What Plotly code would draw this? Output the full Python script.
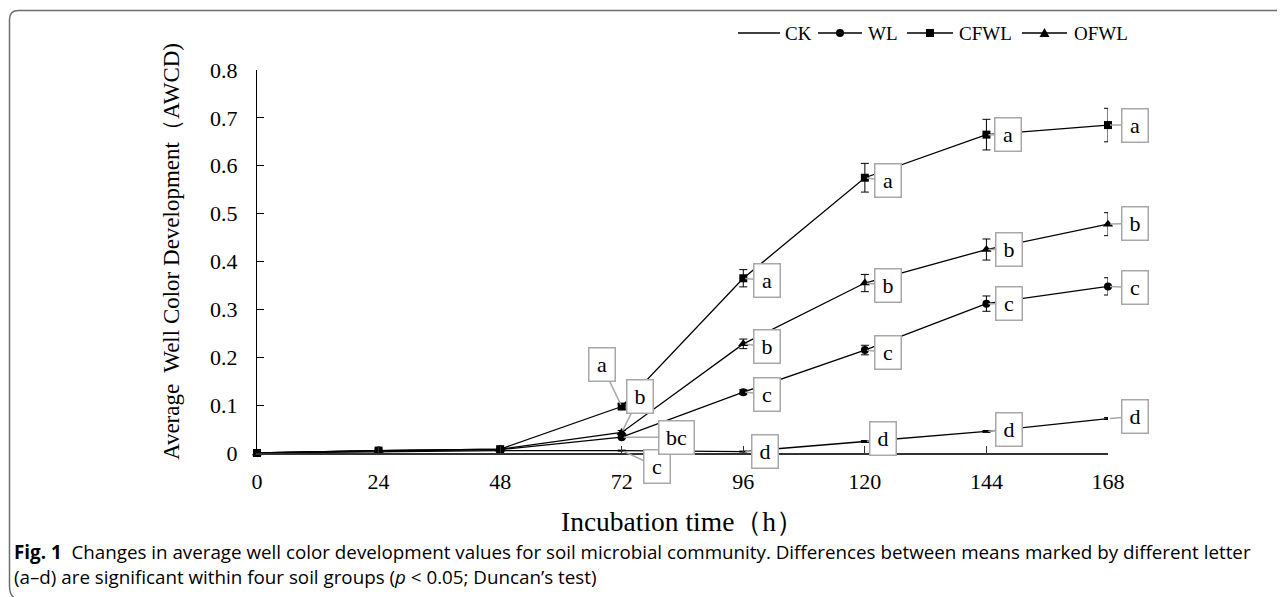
import plotly.graph_objects as go

# ---------------- data ----------------
hours = [0, 24, 48, 72, 96, 120, 144, 168]
series_names = ["CK", "WL", "CFWL", "OFWL"]

ck_awcd = [0.000, 0.003, 0.005, 0.005, 0.003, 0.024, 0.045, 0.072]
wl_awcd = [0.000, 0.005, 0.007, 0.033, 0.127, 0.215, 0.312, 0.348]
cfwl_awcd = [0.000, 0.005, 0.008, 0.097, 0.365, 0.575, 0.665, 0.685]
ofwl_awcd = [0.000, 0.005, 0.008, 0.043, 0.228, 0.355, 0.425, 0.478]

ck_err = [0, 0, 0, 0.001, 0.001, 0.002, 0.002, 0.002]
wl_err = [0, 0, 0, 0.003, 0.005, 0.010, 0.016, 0.018]
cfwl_err = [0, 0, 0, 0.006, 0.018, 0.030, 0.032, 0.035]
ofwl_err = [0, 0, 0, 0.004, 0.010, 0.018, 0.022, 0.024]

# significance letters (from 72 h on)
letter_hours = [72, 96, 120, 144, 168]
ck_letters = ["c", "d", "d", "d", "d"]
wl_letters = ["bc", "c", "c", "c", "c"]
cfwl_letters = ["a", "a", "a", "a", "a"]
ofwl_letters = ["b", "b", "b", "b", "b"]

y_ticks = [0, 0.1, 0.2, 0.3, 0.4, 0.5, 0.6, 0.7, 0.8]
x_title = "Incubation time（h）"
y_title = "Average  Well Color Development（AWCD)"
caption_1 = ("<b>Fig. 1</b>  Changes in average well color development values for soil microbial community. "
             "Differences between means marked by different letter")
caption_2 = "(a–d) are significant within four soil groups (<i>p</i> < 0.05; Duncan’s test)"

# ---------------- layout geometry (page pixels) ----------------
PAGE_W, PAGE_H = 1285, 597
OFF = 8                      # default body margin of the html page
W, H = PAGE_W - OFF, PAGE_H - OFF
L, R, T, B = 257, 1108, 70, 453   # plot area in page pixels


def px(x):
    return (x - L) / (R - L)


def py(y):
    return (B - y) / (B - T)


SERIF = "Liberation Serif, Times New Roman, serif"
SANS = "Open Sans, Liberation Sans, sans-serif"

fig = go.Figure()

styles = {
    "CK": dict(mode="lines", marker=dict(size=3, symbol="line-ew", color="black")),
    "WL": dict(mode="lines+markers", marker=dict(size=8, symbol="circle", color="black")),
    "CFWL": dict(mode="lines+markers", marker=dict(size=8, symbol="square", color="black")),
    "OFWL": dict(mode="lines+markers", marker=dict(size=9, symbol="triangle-up", color="black")),
}
vals = {"CK": ck_awcd, "WL": wl_awcd, "CFWL": cfwl_awcd, "OFWL": ofwl_awcd}
errs = {"CK": ck_err, "WL": wl_err, "CFWL": cfwl_err, "OFWL": ofwl_err}
lets = {"CK": ck_letters, "WL": wl_letters, "CFWL": cfwl_letters, "OFWL": ofwl_letters}

for name in series_names:
    st = styles[name]
    fig.add_trace(go.Scatter(
        x=hours, y=vals[name], name=name, mode=st["mode"], marker=st["marker"],
        line=dict(color="black", width=1.3),
        error_y=dict(type="data", array=errs[name], visible=True, color="black", thickness=1, width=4),
        cliponaxis=False, showlegend=False,
    ))

# callout offsets (pixels) for each label
offsets = {
    "CFWL": [(-20, -42), (24, 2), (23, 3), (22, 0), (27, 0)],
    "OFWL": [(18, -36), (24, 3), (23, 2), (23, 0), (27, -1)],
    "WL": [(55, 0), (24, 2), (23, 2), (23, 0), (27, 1)],
    "CK": [(35, 16), (22, 0), (18, -3), (23, -2), (27, -2)],
}

GRAY = "#a8a8a8"
annotations = []
for name in series_names:
    for i, h in enumerate(letter_hours):
        idx = hours.index(h)
        ax, ay = offsets[name][i]
        annotations.append(dict(
            x=h, y=vals[name][idx], xref="x", yref="y", text=lets[name][i],
            showarrow=True, ax=ax, ay=ay, arrowhead=0, arrowwidth=1.5, arrowcolor=GRAY,
            standoff=2, bordercolor=GRAY, borderwidth=1.5, bgcolor="white", borderpad=3,
            width=19 if len(lets[name][i]) == 1 else 28, height=26,
            font=dict(family=SERIF, size=22, color="black"),
        ))

# axis titles and caption
annotations.append(dict(x=px(682), y=py(521), xref="paper", yref="paper", text=x_title, showarrow=False,
                        xanchor="center", yanchor="middle",
                        font=dict(family=SERIF, size=27.5, color="black")))
annotations.append(dict(x=px(171), y=py(252), xref="paper", yref="paper", text=y_title, showarrow=False,
                        xanchor="center", yanchor="middle",
                        textangle=-90, font=dict(family=SERIF, size=23, color="black")))
annotations.append(dict(x=px(12), y=py(552), xref="paper", yref="paper", text=caption_1, showarrow=False,
                        xanchor="left", yanchor="middle", font=dict(family=SANS, size=18.8, color="black")))
annotations.append(dict(x=px(12), y=py(577), xref="paper", yref="paper", text=caption_2, showarrow=False,
                        xanchor="left", yanchor="middle", font=dict(family=SANS, size=18.8, color="black")))

shapes = []
# frame (rounded top-left / bottom-left corners)
r = 9
fx, fy_top = 9.5, 10.5
frame = (f"M {px(1300)},{py(fy_top)} L {px(fx + r)},{py(fy_top)} "
         f"Q {px(fx)},{py(fy_top)} {px(fx)},{py(fy_top + r)} "
         f"L {px(fx)},{py(586)} Q {px(fx)},{py(595)} {px(fx + 5)},{py(598)}")
shapes.append(dict(type="path", path=frame, xref="paper", yref="paper",
                   line=dict(color="#6e6e6e", width=1.5)))

# manual legend
LY = 33
legend_items = [  # name, line x0, line x1, text x
    ("CK", 738, 780, 783),
    ("WL", 818, 862, 866),
    ("CFWL", 907, 953, 957),
    ("OFWL", 1022, 1067, 1072),
]
for name, x0, x1, tx in legend_items:
    shapes.append(dict(type="line", xref="paper", yref="paper", x0=px(x0), x1=px(x1), y0=py(LY), y1=py(LY),
                       line=dict(color="black", width=1.3)))
    cx = (x0 + x1) / 2
    if name == "WL":
        shapes.append(dict(type="circle", xref="paper", yref="paper", x0=px(cx - 4), x1=px(cx + 4),
                           y0=py(LY + 4), y1=py(LY - 4), fillcolor="black", line=dict(width=0)))
    elif name == "CFWL":
        shapes.append(dict(type="rect", xref="paper", yref="paper", x0=px(cx - 4), x1=px(cx + 4),
                           y0=py(LY + 4), y1=py(LY - 4), fillcolor="black", line=dict(width=0)))
    elif name == "OFWL":
        tri = f"M {px(cx - 5)},{py(LY + 4)} L {px(cx + 5)},{py(LY + 4)} L {px(cx)},{py(LY - 5)} Z"
        shapes.append(dict(type="path", xref="paper", yref="paper", path=tri, fillcolor="black",
                           line=dict(width=0)))
    annotations.append(dict(x=px(tx), y=py(LY), xref="paper", yref="paper", text=name, showarrow=False,
                            xanchor="left", yanchor="middle", font=dict(family=SERIF, size=19, color="black")))

fig.update_layout(
    width=W, height=H,
    margin=dict(l=L - OFF, r=PAGE_W - R, t=T - OFF, b=PAGE_H - B, autoexpand=False),
    plot_bgcolor="white", paper_bgcolor="white",
    showlegend=False,
    annotations=annotations,
    shapes=shapes,
    xaxis=dict(range=[0, 168], tickvals=hours, ticktext=[str(h) for h in hours], automargin=False,
               ticks="inside", ticklen=7, tickcolor="#333", showline=True, linecolor="#333", linewidth=2,
               ticklabelstandoff=8,
               showgrid=False, zeroline=False, tickfont=dict(family=SERIF, size=22, color="black")),
    yaxis=dict(range=[0, 0.8], tickvals=y_ticks, ticktext=["0" if v == 0 else f"{v:.1f}" for v in y_ticks],
               automargin=False, ticklabelstandoff=14,
               ticks="inside", ticklen=7, tickcolor="black", showline=True, linecolor="black", linewidth=1,
               showgrid=False, zeroline=False, tickfont=dict(family=SERIF, size=22, color="black")),
)

fig.write_html("out.html")
